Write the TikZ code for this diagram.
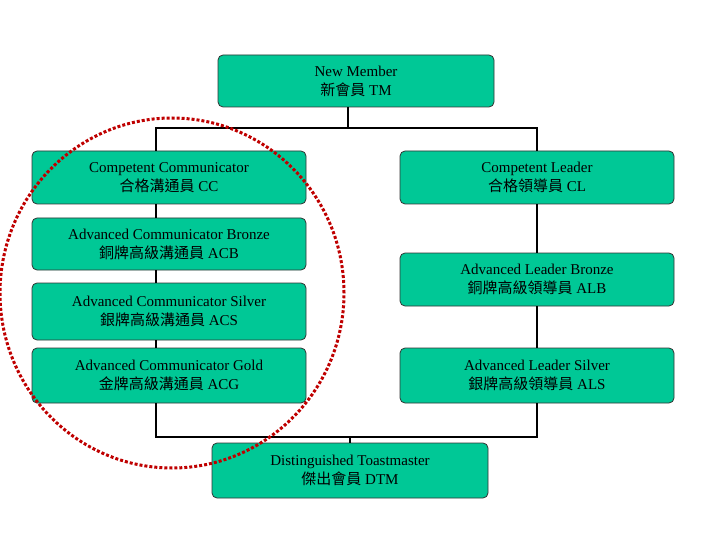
\documentclass[tikz,border=0pt]{standalone}
\usepackage{fontspec}
\setmainfont{Liberation Serif}
\newfontfamily\cjk{Noto Sans CJK TC}
\begin{document}
\begin{tikzpicture}[x=1pt,y=-1pt,
  box/.style={draw=black!80,line width=0.8pt,fill=teal!0!green!60!cyan!0,fill={rgb,255:red,0;green,200;blue,150},rounded corners=5pt,align=center,font=\fontsize{15}{19}\selectfont,inner sep=0pt},
  conn/.style={line width=2.5pt}]
\useasboundingbox (0,0) rectangle (720,540);
\node[box,minimum width=276pt,minimum height=52pt] (nm) at (356,81) {New Member\\{\cjk 新會員} TM};
\node[box,minimum width=274pt,minimum height=53pt] (cc) at (169,177.5) {Competent Communicator\\{\cjk 合格溝通員} CC};
\node[box,minimum width=274pt,minimum height=52pt] (acb) at (169,244) {Advanced Communicator Bronze\\{\cjk 銅牌高級溝通員} ACB};
\node[box,minimum width=274pt,minimum height=57pt] (acs) at (169,311.5) {Advanced Communicator Silver\\{\cjk 銀牌高級溝通員} ACS};
\node[box,minimum width=274pt,minimum height=55pt] (acg) at (169,375.5) {Advanced Communicator Gold\\{\cjk 金牌高級溝通員} ACG};
\node[box,minimum width=274pt,minimum height=53pt] (cl) at (537,177.5) {Competent Leader\\{\cjk 合格領導員} CL};
\node[box,minimum width=274pt,minimum height=53pt] (alb) at (537,279.5) {Advanced Leader Bronze\\{\cjk 銅牌高級領導員} ALB};
\node[box,minimum width=274pt,minimum height=55pt] (als) at (537,375.5) {Advanced Leader Silver\\{\cjk 銀牌高級領導員} ALS};
\node[box,minimum width=276pt,minimum height=55pt] (dtm) at (350,470.5) {Distinguished Toastmaster\\{\cjk 傑出會員} DTM};
\coordinate (t) at (348,128);
\coordinate (b) at (350,437);
\draw[conn] (348,107) -- (t);
\draw[conn] (cc.north -| 156,0) |- (t) -| (cl.north);
\draw[conn] (cc.south -| 156,0) -- (acb.north -| 156,0);
\draw[conn] (acb.south -| 156,0) -- (acs.north -| 156,0);
\draw[conn] (acs.south -| 156,0) -- (acg.north -| 156,0);
\draw[conn] (cl.south) -- (alb.north);
\draw[conn] (alb.south) -- (als.north);
\draw[conn] (acg.south -| 156,0) |- (b) -| (als.south);
\draw[conn] (b) -- (dtm.north);
\draw[red!75!black,line width=3pt,dotted] (172,293) ellipse (172pt and 175pt);
\end{tikzpicture}
\end{document}
